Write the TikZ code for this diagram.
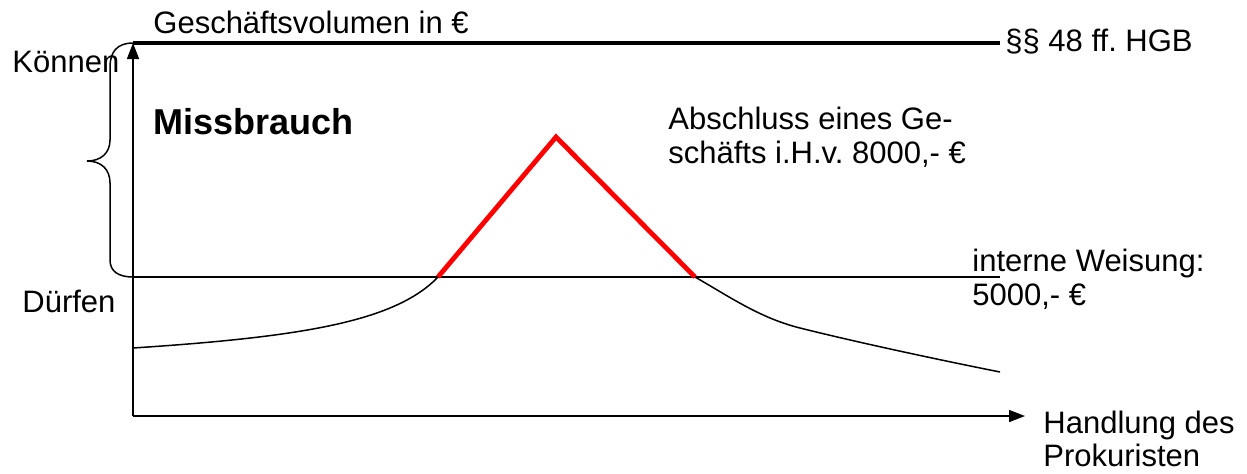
\documentclass[tikz,border=0pt]{standalone}
\usepackage{fontspec}
\setmainfont{Liberation Sans}
\usetikzlibrary{arrows.meta}
\frenchspacing
\tikzset{
  lbl/.style={inner sep=0pt, anchor=base west, font=\fontsize{15.5}{17}\selectfont},
  big/.style={inner sep=0pt, anchor=base west, font=\fontsize{18}{20}\selectfont\bfseries},
  axis/.style={line width=0.8pt, -{Triangle[length=8pt,width=6pt]}},
  thin/.style={line width=0.75pt},
  thick/.style={line width=2.4pt},
  redline/.style={line width=2.4pt, red, line join=miter},
}
\begin{document}
\begin{tikzpicture}[x=0.5pt,y=-0.5pt]
\useasboundingbox (0,0) rectangle (1247,473);
% coordinates
\coordinate (O) at (133,416);
\coordinate (ytop) at (133,43);
\coordinate (xend) at (1025,416);
\coordinate (topend) at (1000,43);
\coordinate (wl) at (133,277);
\coordinate (wr) at (1000,277);
\coordinate (rl) at (438,277);
\coordinate (rt) at (556,137);
\coordinate (rr) at (695,277);
\coordinate (cl) at (133,348);
\coordinate (cr) at (1000,372);
% axes
\draw[axis] (O) -- (ytop);
\draw[axis] (O) -- (xend);
% top line
\draw[thick] (ytop) -- (topend);
% Weisung line
\draw[thin] (wl) -- (wr);
% brace
\draw[thin] (ytop) .. controls (117,43) and (110,52) .. (110,67) -- (110,140)
  .. controls (110,153) and (101,161) .. (87,161)
  .. controls (101,161) and (110,169) .. (110,183) -- (110,260)
  .. controls (110,271) and (118,277) .. (wl);
% curve
\draw[thin] (cl) .. controls (300,337) and (395,322) .. (rl);
\draw[thin] (rr) .. controls (730,297) and (760,318) .. (800,328)
  .. controls (860,343) and (940,360) .. (cr);
% red triangle
\draw[redline] (rl) -- (rt) -- (rr);
% labels
\node[lbl] (gv) at (153,33) {Geschäftsvolumen in €};
\node[lbl] (hgb) at (1005,51) {§§ 48 ff. HGB};
\node[lbl] (koennen) at (12,72) {Können};
\node[big] (miss) at (153,134) {Missbrauch};
\node[lbl] (ab1) at (668,129) {Abschluss eines Ge-};
\node[lbl] (ab2) at (668,163) {schäfts i.H.v. 8000,- €};
\node[lbl] (iw1) at (972,271) {interne Weisung:};
\node[lbl] (iw2) at (972,305) {5000,- €};
\node[lbl] (duerfen) at (22,312) {Dürfen};
\node[lbl] (hd1) at (1043,433) {Handlung des};
\node[lbl] (hd2) at (1043,466) {Prokuristen};
\end{tikzpicture}
\end{document}
